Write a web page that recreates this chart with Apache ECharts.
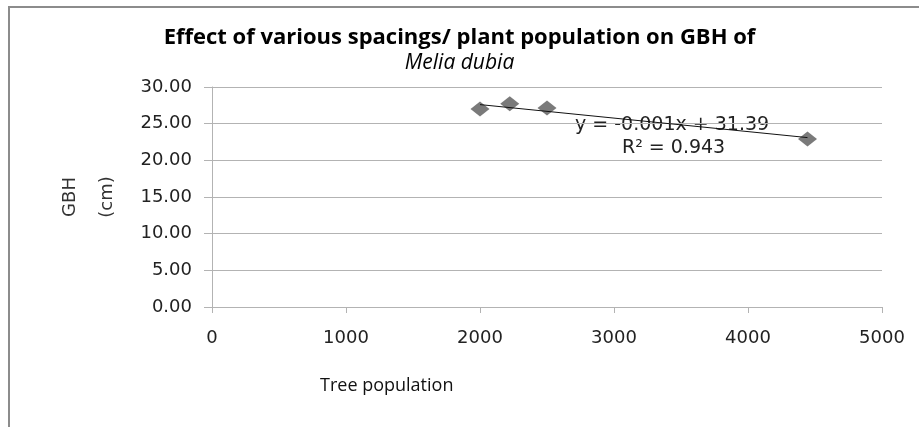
<!DOCTYPE html>
<html>
<head>
<meta charset="utf-8">
<script src="https://cdn.jsdelivr.net/npm/echarts@6/dist/echarts.min.js"></script>
<style>
  html, body { margin: 0; padding: 0; background: #fff; }
  #chart { width: 919px; height: 427px; }
</style>
</head>
<body>
<div id="chart"></div>
<script>
// data
var treePopulation = [2000, 2222, 2500, 4444];
var gbh = [27.0, 27.7, 27.15, 22.9];
// trendline end points (y = -0.001x + 31.39)
var trendX = [2000, 4444];
var trendY = [27.6, 23.1];

var myChart = echarts.init(document.getElementById("chart"));

var tickFont = "DejaVu Sans";
var gridColor = "#b3b3b3";

myChart.setOption({
  animation: false,
  title: {
    text: "Effect of various spacings/ plant population on GBH of",
    subtext: "Melia dubia",
    left: "center",
    top: 22,
    itemGap: 4,
    textStyle: {
      fontFamily: "Open Sans",
      fontWeight: "bold",
      fontSize: 22,
      color: "#000"
    },
    subtextStyle: {
      fontFamily: "Open Sans",
      fontStyle: "italic",
      fontSize: 21,
      color: "#000"
    }
  },
  grid: {
    left: 212,
    right: 37,
    top: 87,
    bottom: 120
  },
  xAxis: {
    type: "value",
    min: 0,
    max: 5000,
    interval: 1000,
    axisLine: { show: true, lineStyle: { color: gridColor } },
    axisTick: { show: true, length: 6, lineStyle: { color: gridColor } },
    splitLine: { show: false },
    axisLabel: {
      margin: 22,
      fontFamily: tickFont,
      fontSize: 18,
      color: "#222",
      formatter: function (v) { return String(v); }
    }
  },
  yAxis: {
    type: "value",
    min: 0,
    max: 30,
    interval: 5,
    name: "GBH\n(cm)",
    nameLocation: "middle",
    nameRotate: 90,
    nameGap: 86,
    nameTextStyle: {
      fontFamily: tickFont,
      fontSize: 18,
      color: "#333",
      lineHeight: 37
    },
    axisLine: { show: true, lineStyle: { color: gridColor } },
    axisTick: { show: true, length: 8, lineStyle: { color: gridColor } },
    splitLine: { show: true, lineStyle: { color: gridColor } },
    axisLabel: {
      margin: 20,
      fontFamily: tickFont,
      fontSize: 18,
      color: "#222",
      formatter: function (v) { return v.toFixed(2); }
    }
  },
  graphic: [
    {
      type: "rect",
      shape: { x: 9, y: 7, width: 940, height: 460 },
      style: { fill: "none", stroke: "#8c8c8c", lineWidth: 2 },
      silent: true
    },
    {
      type: "text",
      left: 320,
      top: 377,
      style: {
        text: "Tree population",
        font: "18px Open Sans",
        fill: "#111"
      }
    },
    {
      type: "text",
      left: 575,
      top: 116,
      style: {
        text: "y = -0.001x + 31.39",
        font: "19px DejaVu Sans",
        fill: "#222"
      }
    },
    {
      type: "text",
      left: 622,
      top: 139,
      style: {
        text: "R² = 0.943",
        font: "19px DejaVu Sans",
        fill: "#222"
      }
    }
  ],
  series: [
    {
      type: "line",
      data: trendX.map(function (x, i) { return [x, trendY[i]]; }),
      symbol: "none",
      lineStyle: { color: "#111", width: 1 },
      z: 3
    },
    {
      type: "scatter",
      data: treePopulation.map(function (x, i) { return [x, gbh[i]]; }),
      symbol: "diamond",
      symbolSize: [19, 15],
      itemStyle: { color: "#595959" },
      z: 2
    }
  ]
});
</script>
</body>
</html>
